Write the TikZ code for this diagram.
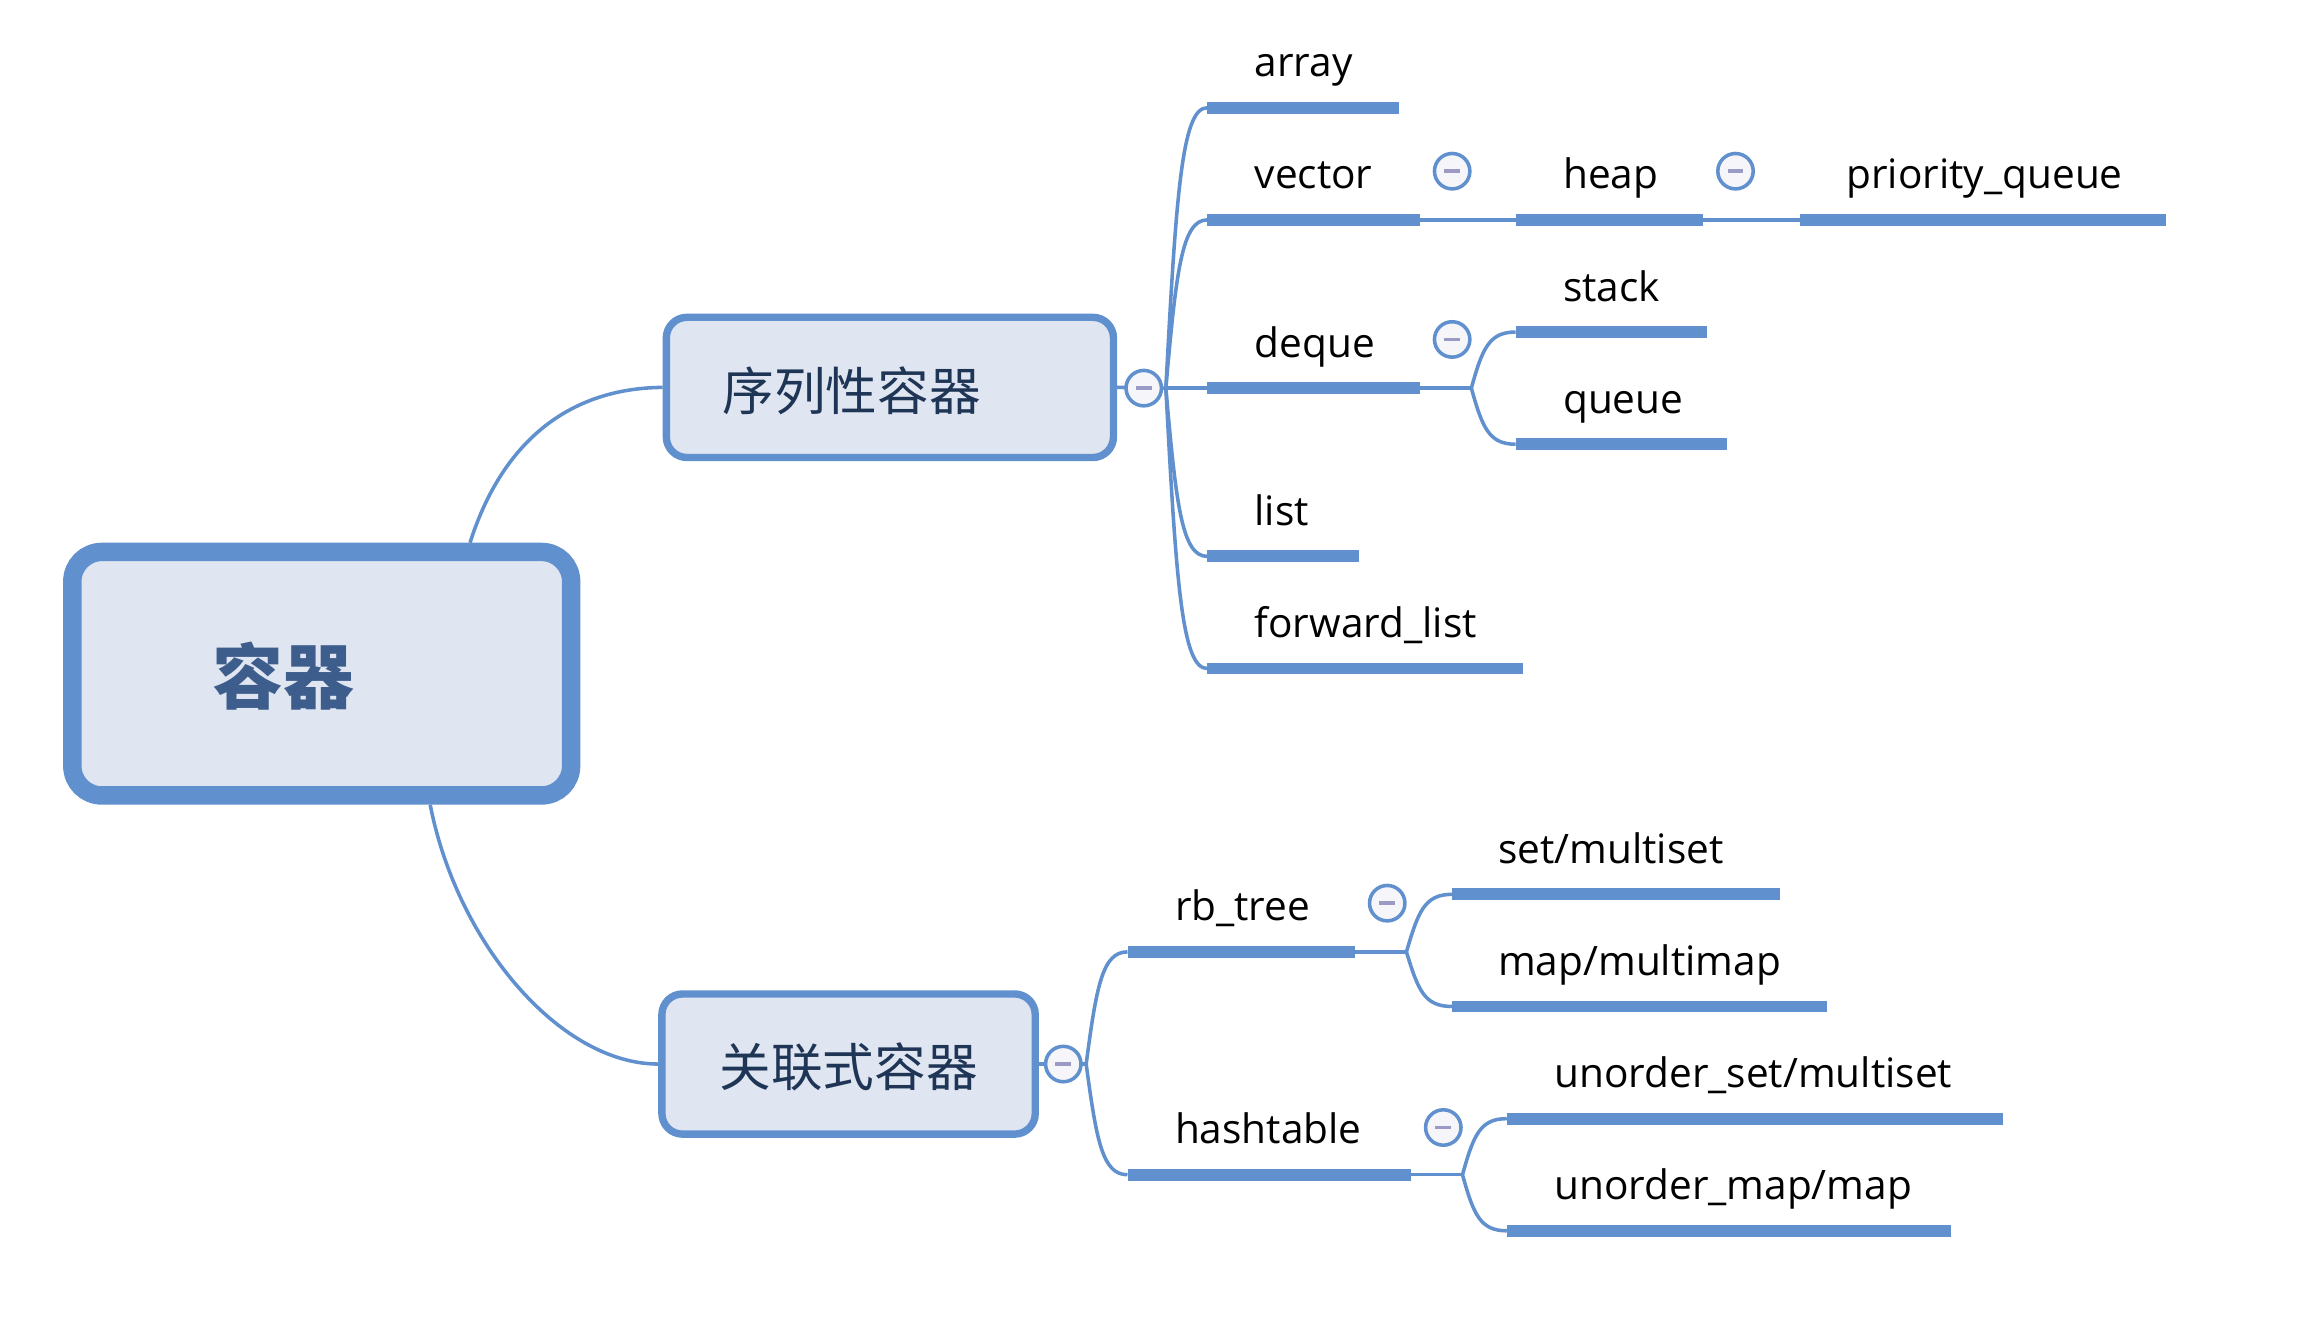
\documentclass[tikz,border=0pt]{standalone}
\usepackage{fontspec}
\setmainfont{Open Sans}
\newfontfamily\cjk{Noto Sans CJK SC}
\definecolor{lineblue}{HTML}{6190CE}
\definecolor{boxfill}{HTML}{DFE6F1}
\definecolor{navy}{HTML}{1F3556}
\definecolor{roottext}{HTML}{3D5E8C}
\definecolor{dashc}{HTML}{9A9AC4}
\definecolor{circfill}{HTML}{F6F6FA}
\tikzset{
  conn/.style={draw=lineblue, line width=2.4pt},
  bar/.style={draw=lineblue, line width=8pt},
  leaf/.style={anchor=base west, inner sep=0pt, font=\fontsize{27.5}{33}\selectfont, text=black},
  rootbox/.style={draw=lineblue, fill=boxfill, line width=12.5pt, rounded corners=20pt, minimum width=338pt, minimum height=165pt, inner sep=0pt},
  subbox/.style={draw=lineblue, fill=boxfill, line width=5pt, rounded corners=14pt, minimum height=95pt, inner sep=0pt},
  roottxt/.style={font=\cjk\bfseries\fontsize{48}{56}\selectfont, text=roottext, inner sep=0pt},
  subtxt/.style={font=\cjk\fontsize{35}{42}\selectfont, text=navy, inner sep=0pt},
  collapse/.style={circle, draw=lineblue, line width=2.4pt, fill=circfill, minimum size=24pt, inner sep=0pt,
    path picture={\draw[dashc, line width=2.4pt] ([xshift=-5.4pt]path picture bounding box.center) -- ([xshift=5.4pt]path picture bounding box.center);}}
}
\begin{document}
\begin{tikzpicture}[x=1pt,y=-1pt]
\useasboundingbox (0,0) rectangle (1568,905.3);
% main boxes
\node[rootbox] (root) at (218,456.5) {};
\node[roottxt] (rootT) at (192,458) {容器};
\node[subbox, minimum width=303pt] (seq) at (603,262.5) {};
\node[subtxt] (seqT) at (577,265) {序列性容器};
\node[subbox, minimum width=253pt] (assoc) at (575,721) {};
\node[subtxt] (assocT) at (575,723) {关联式容器};
% main connectors
\draw[conn] ([xshift=100.5pt]root.north) .. controls (340,300) and (385,263) .. (seq.west);
\draw[conn] ([xshift=73.5pt]root.south) .. controls (310,640) and (380,721) .. (assoc.west);
% branch points
\coordinate (o1) at (790,263);
\coordinate (od) at (997,263);
\coordinate (o2) at (736,721);
\coordinate (orb) at (953,645);
\coordinate (oh) at (991,796);
% bars
\coordinate (arrayL) at (818,73);   \coordinate (arrayR) at (948,73);
\coordinate (vecL) at (818,149);    \coordinate (vecR) at (962,149);
\coordinate (deqL) at (818,263);    \coordinate (deqR) at (962,263);
\coordinate (listL) at (818,377);   \coordinate (listR) at (921,377);
\coordinate (flL) at (818,453);     \coordinate (flR) at (1032,453);
\coordinate (heapL) at (1027,149);  \coordinate (heapR) at (1154,149);
\coordinate (pqL) at (1220,149);    \coordinate (pqR) at (1468,149);
\coordinate (stackL) at (1027,225); \coordinate (stackR) at (1157,225);
\coordinate (queueL) at (1027,301); \coordinate (queueR) at (1170,301);
\coordinate (rbL) at (764,645);     \coordinate (rbR) at (918,645);
\coordinate (hashL) at (764,796);   \coordinate (hashR) at (956,796);
\coordinate (setL) at (984,606);    \coordinate (setR) at (1206,606);
\coordinate (mapL) at (984,682);    \coordinate (mapR) at (1238,682);
\coordinate (usetL) at (1021,758);  \coordinate (usetR) at (1357,758);
\coordinate (umapL) at (1021,834);  \coordinate (umapR) at (1322,834);
% connectors
\draw[conn] (seq.east) -- (o1);
\draw[conn] (o1) .. controls (797,130) and (801,73) .. (arrayL);
\draw[conn] (o1) .. controls (797,183) and (801,149) .. (vecL);
\draw[conn] (o1) -- (deqL);
\draw[conn] (o1) .. controls (797,343) and (801,377) .. (listL);
\draw[conn] (o1) .. controls (797,396) and (801,453) .. (flL);
\draw[conn] (vecR) -- (heapL);
\draw[conn] (heapR) -- (pqL);
\draw[conn] (deqR) -- (od);
\draw[conn] (od) .. controls (1004.5,236) and (1009,225) .. (stackL);
\draw[conn] (od) .. controls (1004.5,290) and (1009,301) .. (queueL);
\draw[conn] (assoc.east) -- (o2);
\draw[conn] (o2) .. controls (743,668) and (747,645) .. (rbL);
\draw[conn] (o2) .. controls (743,773) and (747,796) .. (hashL);
\draw[conn] (rbR) -- (orb);
\draw[conn] (orb) .. controls (961,618) and (965,606) .. (setL);
\draw[conn] (orb) .. controls (961,671) and (965,682) .. (mapL);
\draw[conn] (hashR) -- (oh);
\draw[conn] (oh) .. controls (998.5,769) and (1003,758) .. (usetL);
\draw[conn] (oh) .. controls (998.5,823) and (1003,834) .. (umapL);
% bars drawn
\foreach \b in {array,vec,deq,list,fl,heap,pq,stack,queue,rb,hash,set,map,uset,umap}
  \draw[bar] (\b L) -- (\b R);
% leaf texts
\node[leaf] (arrayT) at (850,52) {array};
\node[leaf] (vecT) at (850,128) {vector};
\node[leaf] (deqT) at (850,242) {deque};
\node[leaf] (listT) at (850,356) {list};
\node[leaf] (flT) at (850,432) {forward\_list};
\node[leaf] (heapT) at (1059,128) {heap};
\node[leaf] (pqT) at (1251,128) {priority\_queue};
\node[leaf] (stackT) at (1059,204) {stack};
\node[leaf] (queueT) at (1059,280) {queue};
\node[leaf] (rbT) at (796,624) {rb\_tree};
\node[leaf] (hashT) at (796,775) {hashtable};
\node[leaf] (setT) at (1015,585) {set/multiset};
\node[leaf] (mapT) at (1015,661) {map/multimap};
\node[leaf] (usetT) at (1053,737) {unorder\_set/multiset};
\node[leaf] (umapT) at (1053,813) {unorder\_map/map};
% collapse markers
\node[collapse] (c1) at (775,263) {};
\node[collapse] (cvec) at (984,116) {};
\node[collapse] (cheap) at (1176,116) {};
\node[collapse] (cdeq) at (984,230) {};
\node[collapse] (c2) at (720.5,721) {};
\node[collapse] (crb) at (940,612) {};
\node[collapse] (chash) at (978,764) {};
\end{tikzpicture}
\end{document}
